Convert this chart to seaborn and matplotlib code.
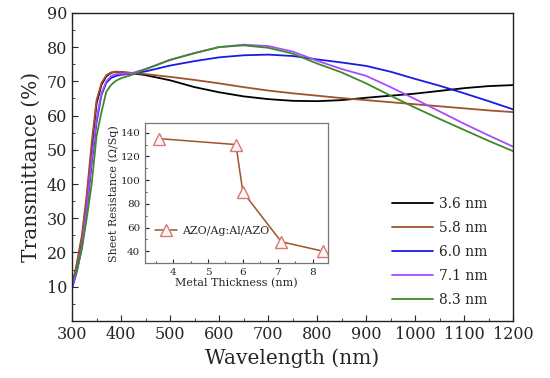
import numpy as np
import pandas as pd
import matplotlib
matplotlib.use("Agg")
import matplotlib.pyplot as plt
import seaborn as sns
from matplotlib.ticker import MultipleLocator

wavelength = [300, 310, 320, 330, 340, 350, 360, 370, 380, 390, 400, 420, 450, 500,
              550, 600, 650, 700, 750, 800, 850, 900, 950, 1000, 1050, 1100, 1150, 1200]
t_36 = [10, 16.5, 24, 35.5, 50, 63.5, 69, 71.5, 72.5, 72.8, 72.7, 72.4, 71.8, 70.3,
        68.3, 66.8, 65.6, 64.8, 64.3, 64.2, 64.5, 65.2, 65.8, 66.4, 67.2, 68.0, 68.6, 68.9]
t_58 = [10, 17, 25, 37, 52, 64.5, 69.5, 71.8, 72.6, 72.8, 72.7, 72.5, 72.1, 71.3,
        70.4, 69.4, 68.3, 67.3, 66.5, 65.8, 65.1, 64.5, 63.9, 63.3, 62.7, 62.1, 61.5, 61.0]
t_60 = [9.5, 14.5, 21.5, 32, 46, 58, 66, 69.6, 71, 71.6, 71.9, 72.2, 72.9, 74.6,
        75.9, 77.0, 77.6, 77.8, 77.4, 76.4, 75.5, 74.5, 72.8, 70.7, 68.7, 66.5, 64.2, 61.8]
t_71 = [10, 15, 22, 33, 47, 59, 66.5, 70, 71.6, 72.1, 72.2, 72.3, 73.6, 76.2,
        78.3, 80.0, 80.7, 80.3, 78.7, 76.0, 73.6, 71.6, 68.3, 64.8, 61.2, 57.6, 54.2, 50.9]
t_83 = [11.5, 15, 21, 30, 40, 54, 61, 67, 69, 70.2, 70.9, 71.8, 73.5, 76.3,
        78.2, 80.0, 80.5, 79.8, 78.1, 75.2, 72.6, 69.4, 65.8, 62.3, 59.0, 55.8, 52.6, 49.6]
labels = ["3.6 nm", "5.8 nm", "6.0 nm", "7.1 nm", "8.3 nm"]
colors = ["#000000", "#a0522d", "#1a1ae6", "#a64dff", "#3f8a26"]

thickness = [3.6, 5.8, 6.0, 7.1, 8.3]
sheet_res = [135, 130, 90, 48, 40]

rows = []
for lab, ser in zip(labels, [t_36, t_58, t_60, t_71, t_83]):
    for w, t in zip(wavelength, ser):
        rows.append((lab, w, t))
df = pd.DataFrame(rows, columns=["sample", "wl", "T"])

sns.set_style("ticks")
plt.rcParams["font.family"] = ["DejaVu Serif"]
plt.rcParams["mathtext.fontset"] = "dejavuserif"

fig = plt.figure(figsize=(5.5, 3.78), dpi=100)
ax = fig.add_axes([0.131, 0.151, 0.802, 0.815])
sns.lineplot(data=df, x="wl", y="T", hue="sample", palette=dict(zip(labels, colors)),
             linewidth=1.3, ax=ax, sort=False)
ax.set_xlim(300, 1200)
ax.set_ylim(0, 90)
ax.set_xticks(range(300, 1201, 100))
ax.set_yticks(range(10, 91, 10))
ax.xaxis.set_minor_locator(MultipleLocator(50))
ax.yaxis.set_minor_locator(MultipleLocator(5))
ax.tick_params(which="both", direction="in", top=False, right=False)
ax.tick_params(which="major", length=4, labelsize=11.5)
ax.tick_params(which="minor", length=2.5)
ax.set_xlabel("Wavelength (nm)", fontsize=14.5)
ax.set_ylabel("Transmittance (%)", fontsize=14.5)
for s in ax.spines.values():
    s.set_visible(True)
    s.set_linewidth(1.0)
    s.set_color("#222222")
leg = ax.legend(loc="lower right", bbox_to_anchor=(0.97, 0.005), frameon=False,
                fontsize=10, handlelength=3.0, handletextpad=0.4, labelspacing=0.72)

ins = fig.add_axes([0.264, 0.304, 0.333, 0.370])
sns.lineplot(x=thickness, y=sheet_res, ax=ins, color="#a0522d", linewidth=1.1,
             marker="^", markersize=9, markerfacecolor="#fff5f5",
             markeredgecolor="#d47a70", markeredgewidth=1.0, label="AZO/Ag:Al/AZO")
ins.set_xlim(3.2, 8.45)
ins.set_ylim(30, 148)
ins.set_xticks([4, 5, 6, 7, 8])
ins.set_yticks([40, 60, 80, 100, 120, 140])
ins.yaxis.set_minor_locator(MultipleLocator(10))
ins.xaxis.set_minor_locator(MultipleLocator(0.5))
ins.tick_params(which="both", direction="in", top=False, right=False, labelsize=7.5)
ins.tick_params(which="major", length=3)
ins.tick_params(which="minor", length=1.5)
ins.set_xlabel("Metal Thickness (nm)", fontsize=8, labelpad=1)
ins.set_ylabel("Sheet Resistance (Ω/Sq)", fontsize=8, labelpad=1)
for s in ins.spines.values():
    s.set_visible(True)
    s.set_linewidth(0.9)
    s.set_color("#777777")
ins.legend(loc="lower left", bbox_to_anchor=(0.0, 0.12), frameon=False, fontsize=8,
           handlelength=2.0, handletextpad=0.4)

fig.savefig("out.png", dpi=100)
